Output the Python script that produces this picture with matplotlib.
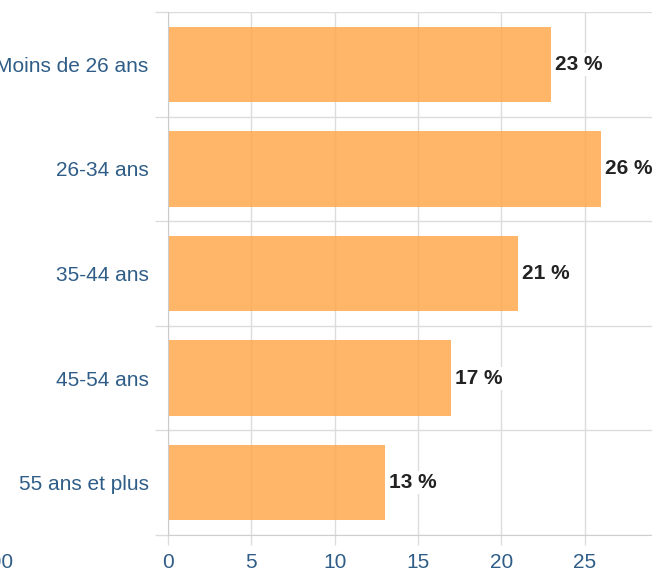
import matplotlib
matplotlib.use("Agg")
import matplotlib.pyplot as plt
import numpy as np

# age groups and share of respondents (%)
categories = ["Moins de 26 ans", "26-34 ans", "35-44 ans", "45-54 ans", "55 ans et plus"]
values = [23, 26, 21, 17, 13]
x_ticks = [0, 5, 10, 15, 20, 25]

BAR_COLOR = "#ffa94d"
LABEL_BLUE = "#2f5d87"
GRID = "#dcdcdc"

plt.rcParams["font.family"] = ["Liberation Sans", "DejaVu Sans"]

fig = plt.figure(figsize=(6.52, 5.76), dpi=100)
ax = fig.add_axes([168 / 652, 1 - 535 / 576, 1 - 168 / 652, (535 - 12) / 576])

y = np.arange(len(categories))
ax.barh(y, values, height=0.72, color=BAR_COLOR, alpha=0.85, zorder=2)

for yi, v in zip(y, values):
    ax.text(v + 0.25, yi, f"{v} %", va="center", ha="left", fontsize=15,
            fontweight="bold", color="#222222", zorder=4,
            bbox=dict(boxstyle="square,pad=0.1", fc="white", ec="none"))

ax.set_ylim(len(categories) - 0.5, -0.5)
ax.set_xlim(0, 29.05)

ax.set_yticks(y)
ax.set_yticklabels(categories)
ax.set_yticks(np.arange(-0.5, len(categories), 1), minor=True)
ax.set_xticks(x_ticks)

ax.tick_params(axis="y", which="major", length=0, pad=14, labelsize=15, labelcolor=LABEL_BLUE)
ax.tick_params(axis="y", which="minor", length=9.4, color=GRID, width=1)
ax.tick_params(axis="x", which="major", length=7.2, color=GRID, width=1, pad=6,
               labelsize=15, labelcolor=LABEL_BLUE)

ax.grid(axis="x", which="major", color=GRID, lw=1, zorder=1)
ax.grid(axis="y", which="minor", color=GRID, lw=1, zorder=1)
ax.set_axisbelow(True)

for side in ["top", "right"]:
    ax.spines[side].set_visible(False)
ax.spines["left"].set_color("#cccccc")
ax.spines["bottom"].set_color("#cfcfcf")

# clipped label from the neighbouring chart
fig.text(14 / 652, 1 - 563 / 576, "100", ha="right", va="center", fontsize=15, color=LABEL_BLUE)

fig.savefig("out.png", dpi=100)
